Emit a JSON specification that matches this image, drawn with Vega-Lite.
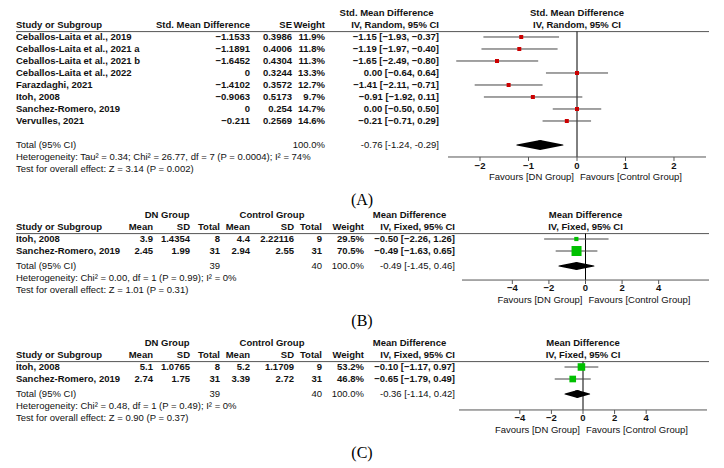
{
  "$schema": "https://vega.github.io/schema/vega-lite/v6.json",
  "padding": 0,
  "spacing": 21,
  "bounds": "flush",
  "background": "white",
  "config": {"view": {"stroke": null}, "font": "Liberation Sans", "text": {"fontSize": 9.5, "color": "#111"}, "title": {"baseline": "top"}},
  "datasets": {
    "panels": [{"p": "A"}, {"p": "B"}, {"p": "C"}],
    "cells": [
      {"p": "A", "r": 0, "c": 3.54, "t": "Std. Mean Difference", "k": "group"},
      {"p": "A", "r": 0, "t": "Std. Mean Difference", "k": "fhead"},
      {"p": "A", "r": 1, "t": "IV, Random, 95% CI", "k": "fhead"},
      {"p": "A", "r": 1, "c": 0, "t": "Study or Subgroup", "k": "head"},
      {"p": "A", "r": 1, "c": 1, "t": "Std. Mean Difference", "k": "head"},
      {"p": "A", "r": 1, "c": 2, "t": "SE", "k": "head"},
      {"p": "A", "r": 1, "c": 3, "t": "Weight", "k": "head"},
      {"p": "A", "r": 1, "c": 4, "t": "IV, Random, 95% CI", "k": "head"},
      {"p": "A", "r": 2, "c": 0, "t": "Ceballos-Laita et al., 2019", "k": "study"},
      {"p": "A", "r": 2, "c": 1, "t": "−1.1533", "k": "study"},
      {"p": "A", "r": 2, "c": 2, "t": "0.3986", "k": "study"},
      {"p": "A", "r": 2, "c": 3, "t": "11.9%", "k": "study"},
      {"p": "A", "r": 2, "c": 4, "t": "−1.15 [−1.93, −0.37]", "k": "study"},
      {"p": "A", "r": 3, "c": 0, "t": "Ceballos-Laita et al., 2021 a", "k": "study"},
      {"p": "A", "r": 3, "c": 1, "t": "−1.1891", "k": "study"},
      {"p": "A", "r": 3, "c": 2, "t": "0.4006", "k": "study"},
      {"p": "A", "r": 3, "c": 3, "t": "11.8%", "k": "study"},
      {"p": "A", "r": 3, "c": 4, "t": "−1.19 [−1.97, −0.40]", "k": "study"},
      {"p": "A", "r": 4, "c": 0, "t": "Ceballos-Laita et al., 2021 b", "k": "study"},
      {"p": "A", "r": 4, "c": 1, "t": "−1.6452", "k": "study"},
      {"p": "A", "r": 4, "c": 2, "t": "0.4304", "k": "study"},
      {"p": "A", "r": 4, "c": 3, "t": "11.3%", "k": "study"},
      {"p": "A", "r": 4, "c": 4, "t": "−1.65 [−2.49, −0.80]", "k": "study"},
      {"p": "A", "r": 5, "c": 0, "t": "Ceballos-Laita et al., 2022", "k": "study"},
      {"p": "A", "r": 5, "c": 1, "t": "0", "k": "study"},
      {"p": "A", "r": 5, "c": 2, "t": "0.3244", "k": "study"},
      {"p": "A", "r": 5, "c": 3, "t": "13.3%", "k": "study"},
      {"p": "A", "r": 5, "c": 4, "t": "0.00 [−0.64, 0.64]", "k": "study"},
      {"p": "A", "r": 6, "c": 0, "t": "Farazdaghi, 2021", "k": "study"},
      {"p": "A", "r": 6, "c": 1, "t": "−1.4102", "k": "study"},
      {"p": "A", "r": 6, "c": 2, "t": "0.3572", "k": "study"},
      {"p": "A", "r": 6, "c": 3, "t": "12.7%", "k": "study"},
      {"p": "A", "r": 6, "c": 4, "t": "−1.41 [−2.11, −0.71]", "k": "study"},
      {"p": "A", "r": 7, "c": 0, "t": "Itoh, 2008", "k": "study"},
      {"p": "A", "r": 7, "c": 1, "t": "−0.9063", "k": "study"},
      {"p": "A", "r": 7, "c": 2, "t": "0.5173", "k": "study"},
      {"p": "A", "r": 7, "c": 3, "t": "9.7%", "k": "study"},
      {"p": "A", "r": 7, "c": 4, "t": "−0.91 [−1.92, 0.11]", "k": "study"},
      {"p": "A", "r": 8, "c": 0, "t": "Sanchez-Romero, 2019", "k": "study"},
      {"p": "A", "r": 8, "c": 1, "t": "0", "k": "study"},
      {"p": "A", "r": 8, "c": 2, "t": "0.254", "k": "study"},
      {"p": "A", "r": 8, "c": 3, "t": "14.7%", "k": "study"},
      {"p": "A", "r": 8, "c": 4, "t": "0.00 [−0.50, 0.50]", "k": "study"},
      {"p": "A", "r": 9, "c": 0, "t": "Vervulles, 2021", "k": "study"},
      {"p": "A", "r": 9, "c": 1, "t": "−0.211", "k": "study"},
      {"p": "A", "r": 9, "c": 2, "t": "0.2569", "k": "study"},
      {"p": "A", "r": 9, "c": 3, "t": "14.6%", "k": "study"},
      {"p": "A", "r": 9, "c": 4, "t": "−0.21 [−0.71, 0.29]", "k": "study"},
      {"p": "A", "r": 11, "c": 0, "t": "Total (95% CI)", "k": "total"},
      {"p": "A", "r": 11, "c": 3, "t": "100.0%", "k": "total"},
      {"p": "A", "r": 11, "c": 4, "t": "-0.76 [-1.24, -0.29]", "k": "total"},
      {"p": "A", "r": 12, "c": 0, "t": "Heterogeneity: Tau² = 0.34; Chi² = 26.77, df = 7 (P = 0.0004); I² = 74%", "k": "note"},
      {"p": "A", "r": 13, "c": 0, "t": "Test for overall effect: Z = 3.14 (P = 0.002)", "k": "note"},

      {"p": "B", "r": 0, "c": 1.38, "t": "DN Group", "k": "group"},
      {"p": "B", "r": 0, "c": 4.5, "t": "Control Group", "k": "group"},
      {"p": "B", "r": 0, "c": 7.5, "t": "Mean Difference", "k": "group"},
      {"p": "B", "r": 0, "t": "Mean Difference", "k": "fhead"},
      {"p": "B", "r": 1, "t": "IV, Fixed, 95% CI", "k": "fhead"},
      {"p": "B", "r": 1, "c": 0, "t": "Study or Subgroup", "k": "head"},
      {"p": "B", "r": 1, "c": 1, "t": "Mean", "k": "head"},
      {"p": "B", "r": 1, "c": 2, "t": "SD", "k": "head"},
      {"p": "B", "r": 1, "c": 3, "t": "Total", "k": "head"},
      {"p": "B", "r": 1, "c": 4, "t": "Mean", "k": "head"},
      {"p": "B", "r": 1, "c": 5, "t": "SD", "k": "head"},
      {"p": "B", "r": 1, "c": 6, "t": "Total", "k": "head"},
      {"p": "B", "r": 1, "c": 7, "t": "Weight", "k": "head"},
      {"p": "B", "r": 1, "c": 8, "t": "IV, Fixed, 95% CI", "k": "head"},
      {"p": "B", "r": 2, "c": 0, "t": "Itoh, 2008", "k": "study"},
      {"p": "B", "r": 2, "c": 1, "t": "3.9", "k": "study"},
      {"p": "B", "r": 2, "c": 2, "t": "1.4354", "k": "study"},
      {"p": "B", "r": 2, "c": 3, "t": "8", "k": "study"},
      {"p": "B", "r": 2, "c": 4, "t": "4.4", "k": "study"},
      {"p": "B", "r": 2, "c": 5, "t": "2.22116", "k": "study"},
      {"p": "B", "r": 2, "c": 6, "t": "9", "k": "study"},
      {"p": "B", "r": 2, "c": 7, "t": "29.5%", "k": "study"},
      {"p": "B", "r": 2, "c": 8, "t": "−0.50 [−2.26, 1.26]", "k": "study"},
      {"p": "B", "r": 3, "c": 0, "t": "Sanchez-Romero, 2019", "k": "study"},
      {"p": "B", "r": 3, "c": 1, "t": "2.45", "k": "study"},
      {"p": "B", "r": 3, "c": 2, "t": "1.99", "k": "study"},
      {"p": "B", "r": 3, "c": 3, "t": "31", "k": "study"},
      {"p": "B", "r": 3, "c": 4, "t": "2.94", "k": "study"},
      {"p": "B", "r": 3, "c": 5, "t": "2.55", "k": "study"},
      {"p": "B", "r": 3, "c": 6, "t": "31", "k": "study"},
      {"p": "B", "r": 3, "c": 7, "t": "70.5%", "k": "study"},
      {"p": "B", "r": 3, "c": 8, "t": "−0.49 [−1.63, 0.65]", "k": "study"},
      {"p": "B", "r": 4.25, "c": 0, "t": "Total (95% CI)", "k": "total"},
      {"p": "B", "r": 4.25, "c": 3, "t": "39", "k": "total"},
      {"p": "B", "r": 4.25, "c": 6, "t": "40", "k": "total"},
      {"p": "B", "r": 4.25, "c": 7, "t": "100.0%", "k": "total"},
      {"p": "B", "r": 4.25, "c": 8, "t": "-0.49 [-1.45, 0.46]", "k": "total"},
      {"p": "B", "r": 5.25, "c": 0, "t": "Heterogeneity: Chi² = 0.00, df = 1 (P = 0.99); I² = 0%", "k": "note"},
      {"p": "B", "r": 6.25, "c": 0, "t": "Test for overall effect: Z = 1.01 (P = 0.31)", "k": "note"},

      {"p": "C", "r": 0, "c": 1.38, "t": "DN Group", "k": "group"},
      {"p": "C", "r": 0, "c": 4.5, "t": "Control Group", "k": "group"},
      {"p": "C", "r": 0, "c": 7.5, "t": "Mean Difference", "k": "group"},
      {"p": "C", "r": 0, "t": "Mean Difference", "k": "fhead"},
      {"p": "C", "r": 1, "t": "IV, Fixed, 95% CI", "k": "fhead"},
      {"p": "C", "r": 1, "c": 0, "t": "Study or Subgroup", "k": "head"},
      {"p": "C", "r": 1, "c": 1, "t": "Mean", "k": "head"},
      {"p": "C", "r": 1, "c": 2, "t": "SD", "k": "head"},
      {"p": "C", "r": 1, "c": 3, "t": "Total", "k": "head"},
      {"p": "C", "r": 1, "c": 4, "t": "Mean", "k": "head"},
      {"p": "C", "r": 1, "c": 5, "t": "SD", "k": "head"},
      {"p": "C", "r": 1, "c": 6, "t": "Total", "k": "head"},
      {"p": "C", "r": 1, "c": 7, "t": "Weight", "k": "head"},
      {"p": "C", "r": 1, "c": 8, "t": "IV, Fixed, 95% CI", "k": "head"},
      {"p": "C", "r": 2, "c": 0, "t": "Itoh, 2008", "k": "study"},
      {"p": "C", "r": 2, "c": 1, "t": "5.1", "k": "study"},
      {"p": "C", "r": 2, "c": 2, "t": "1.0765", "k": "study"},
      {"p": "C", "r": 2, "c": 3, "t": "8", "k": "study"},
      {"p": "C", "r": 2, "c": 4, "t": "5.2", "k": "study"},
      {"p": "C", "r": 2, "c": 5, "t": "1.1709", "k": "study"},
      {"p": "C", "r": 2, "c": 6, "t": "9", "k": "study"},
      {"p": "C", "r": 2, "c": 7, "t": "53.2%", "k": "study"},
      {"p": "C", "r": 2, "c": 8, "t": "−0.10 [−1.17, 0.97]", "k": "study"},
      {"p": "C", "r": 3, "c": 0, "t": "Sanchez-Romero, 2019", "k": "study"},
      {"p": "C", "r": 3, "c": 1, "t": "2.74", "k": "study"},
      {"p": "C", "r": 3, "c": 2, "t": "1.75", "k": "study"},
      {"p": "C", "r": 3, "c": 3, "t": "31", "k": "study"},
      {"p": "C", "r": 3, "c": 4, "t": "3.39", "k": "study"},
      {"p": "C", "r": 3, "c": 5, "t": "2.72", "k": "study"},
      {"p": "C", "r": 3, "c": 6, "t": "31", "k": "study"},
      {"p": "C", "r": 3, "c": 7, "t": "46.8%", "k": "study"},
      {"p": "C", "r": 3, "c": 8, "t": "−0.65 [−1.79, 0.49]", "k": "study"},
      {"p": "C", "r": 4.25, "c": 0, "t": "Total (95% CI)", "k": "total"},
      {"p": "C", "r": 4.25, "c": 3, "t": "39", "k": "total"},
      {"p": "C", "r": 4.25, "c": 6, "t": "40", "k": "total"},
      {"p": "C", "r": 4.25, "c": 7, "t": "100.0%", "k": "total"},
      {"p": "C", "r": 4.25, "c": 8, "t": "-0.36 [-1.14, 0.42]", "k": "total"},
      {"p": "C", "r": 5.25, "c": 0, "t": "Heterogeneity: Chi² = 0.48, df = 1 (P = 0.49); I² = 0%", "k": "note"},
      {"p": "C", "r": 6.25, "c": 0, "t": "Test for overall effect: Z = 0.90 (P = 0.37)", "k": "note"}
    ],
    "forest": [
      {"p": "A", "r": 2, "est": -1.15, "lo": -1.93, "hi": -0.37, "w": 11.9},
      {"p": "A", "r": 3, "est": -1.19, "lo": -1.97, "hi": -0.40, "w": 11.8},
      {"p": "A", "r": 4, "est": -1.65, "lo": -2.49, "hi": -0.80, "w": 11.3},
      {"p": "A", "r": 5, "est": 0.00, "lo": -0.64, "hi": 0.64, "w": 13.3},
      {"p": "A", "r": 6, "est": -1.41, "lo": -2.11, "hi": -0.71, "w": 12.7},
      {"p": "A", "r": 7, "est": -0.91, "lo": -1.92, "hi": 0.11, "w": 9.7},
      {"p": "A", "r": 8, "est": 0.00, "lo": -0.50, "hi": 0.50, "w": 14.7},
      {"p": "A", "r": 9, "est": -0.21, "lo": -0.71, "hi": 0.29, "w": 14.6},
      {"p": "B", "r": 2, "est": -0.50, "lo": -2.26, "hi": 1.26, "w": 29.5},
      {"p": "B", "r": 3, "est": -0.49, "lo": -1.63, "hi": 0.65, "w": 70.5},
      {"p": "C", "r": 2, "est": -0.10, "lo": -1.17, "hi": 0.97, "w": 53.2},
      {"p": "C", "r": 3, "est": -0.65, "lo": -1.79, "hi": 0.49, "w": 46.8}
    ],
    "diamond": [
      {"p": "A", "r": 11, "x": -1.24, "b": "lower"},
      {"p": "A", "r": 11, "x": -0.76, "b": "estimate"},
      {"p": "A", "r": 11, "x": -0.29, "b": "upper"},
      {"p": "B", "r": 4.25, "x": -1.45, "b": "lower"},
      {"p": "B", "r": 4.25, "x": -0.49, "b": "estimate"},
      {"p": "B", "r": 4.25, "x": 0.46, "b": "upper"},
      {"p": "C", "r": 4.25, "x": -1.14, "b": "lower"},
      {"p": "C", "r": 4.25, "x": -0.36, "b": "estimate"},
      {"p": "C", "r": 4.25, "x": 0.42, "b": "upper"}
    ],
    "ticks": [
      {"p": "A", "v": -2, "label": "−2"}, {"p": "A", "v": -1, "label": "−1"}, {"p": "A", "v": 0, "label": "0"}, {"p": "A", "v": 1, "label": "1"}, {"p": "A", "v": 2, "label": "2"},
      {"p": "B", "v": -4, "label": "−4"}, {"p": "B", "v": -2, "label": "−2"}, {"p": "B", "v": 0, "label": "0"}, {"p": "B", "v": 2, "label": "2"}, {"p": "B", "v": 4, "label": "4"},
      {"p": "C", "v": -4, "label": "−4"}, {"p": "C", "v": -2, "label": "−2"}, {"p": "C", "v": 0, "label": "0"}, {"p": "C", "v": 2, "label": "2"}, {"p": "C", "v": 4, "label": "4"}
    ],
    "favours": [
      {"p": "A", "side": "DN", "t": "Favours [DN Group]"}, {"p": "A", "side": "Control", "t": "Favours [Control Group]"},
      {"p": "B", "side": "DN", "t": "Favours [DN Group]"}, {"p": "B", "side": "Control", "t": "Favours [Control Group]"},
      {"p": "C", "side": "DN", "t": "Favours [DN Group]"}, {"p": "C", "side": "Control", "t": "Favours [Control Group]"}
    ]
  },
  "vconcat": [
    {
      "width": 724, "height": 186,
      "title": {"text": "(A)", "orient": "bottom", "anchor": "middle", "frame": "group", "baseline": "top", "font": "Liberation Serif", "fontSize": 16, "fontWeight": "normal", "color": "#000", "offset": 6},
      "resolve": {"scale": {"x": "independent"}},
      "layer": [
        {"data": {"name": "panels"}, "transform": [{"filter": "datum.p=='A'"}], "mark": {"type": "rule", "color": "#555"},
         "encoding": {"x": {"datum": 0, "type": "quantitative", "scale": {"domain": [0,1,2,3,4,5], "range": [16,250,292,325,439,709], "nice": false, "zero": false}, "axis": null}, "x2": {"datum": 5},
                      "y": {"datum": 1.55, "type": "quantitative", "scale": {"domain": [-1.0833, 14.4167], "reverse": true, "nice": false, "zero": false}, "axis": null}}},
        {"data": {"name": "panels"}, "transform": [{"filter": "datum.p=='A'"}], "mark": {"type": "rule", "color": "#000"},
         "encoding": {"x": {"datum": 0, "type": "quantitative", "scale": {"domain": [-2.66, 2.66], "range": [448, 706], "nice": false, "zero": false}, "axis": null},
                      "y": {"datum": 1.55, "type": "quantitative", "scale": {"domain": [-1.0833, 14.4167], "reverse": true, "nice": false, "zero": false}, "axis": null}, "y2": {"datum": 12.0}}},
        {"data": {"name": "panels"}, "transform": [{"filter": "datum.p=='A'"}], "mark": {"type": "rule", "color": "#555"},
         "encoding": {"x": {"datum": -2.66, "type": "quantitative", "scale": {"domain": [-2.66, 2.66], "range": [448, 706], "nice": false, "zero": false}, "axis": null}, "x2": {"datum": 2.66},
                      "y": {"datum": 12.0, "type": "quantitative", "scale": {"domain": [-1.0833, 14.4167], "reverse": true, "nice": false, "zero": false}, "axis": null}}},
        {"data": {"name": "ticks"}, "transform": [{"filter": "datum.p=='A'"}], "mark": {"type": "rule", "color": "#555"},
         "encoding": {"x": {"field": "v", "type": "quantitative", "scale": {"domain": [-2.66, 2.66], "range": [448, 706], "nice": false, "zero": false}, "axis": null},
                      "y": {"datum": 12.0, "type": "quantitative", "scale": {"domain": [-1.0833, 14.4167], "reverse": true, "nice": false, "zero": false}, "axis": null}, "y2": {"datum": 12.33}}},
        {"data": {"name": "ticks"}, "transform": [{"filter": "datum.p=='A'"}], "mark": {"type": "text", "baseline": "middle", "align": "center", "fontWeight": "bold"},
         "encoding": {"x": {"field": "v", "type": "quantitative", "scale": {"domain": [-2.66, 2.66], "range": [448, 706], "nice": false, "zero": false}, "axis": null},
                      "y": {"datum": 12.72, "type": "quantitative", "scale": {"domain": [-1.0833, 14.4167], "reverse": true, "nice": false, "zero": false}, "axis": null}, "text": {"field": "label"}}},
        {"data": {"name": "favours"}, "transform": [{"filter": "datum.p=='A' && datum.side=='DN'"}], "mark": {"type": "text", "baseline": "middle", "align": "right", "dx": -3},
         "encoding": {"x": {"datum": 0, "type": "quantitative", "scale": {"domain": [-2.66, 2.66], "range": [448, 706], "nice": false, "zero": false}, "axis": null},
                      "y": {"datum": 13.67, "type": "quantitative", "scale": {"domain": [-1.0833, 14.4167], "reverse": true, "nice": false, "zero": false}, "axis": null}, "text": {"field": "t"}}},
        {"data": {"name": "favours"}, "transform": [{"filter": "datum.p=='A' && datum.side=='Control'"}], "mark": {"type": "text", "baseline": "middle", "align": "left", "dx": 3},
         "encoding": {"x": {"datum": 0, "type": "quantitative", "scale": {"domain": [-2.66, 2.66], "range": [448, 706], "nice": false, "zero": false}, "axis": null},
                      "y": {"datum": 13.67, "type": "quantitative", "scale": {"domain": [-1.0833, 14.4167], "reverse": true, "nice": false, "zero": false}, "axis": null}, "text": {"field": "t"}}},
        {"data": {"name": "forest"}, "transform": [{"filter": "datum.p=='A'"}], "mark": {"type": "rule", "color": "#444"},
         "encoding": {"x": {"field": "lo", "type": "quantitative", "scale": {"domain": [-2.66, 2.66], "range": [448, 706], "nice": false, "zero": false}, "axis": null}, "x2": {"field": "hi"},
                      "y": {"field": "r", "type": "quantitative", "scale": {"domain": [-1.0833, 14.4167], "reverse": true, "nice": false, "zero": false}, "axis": null}}},
        {"data": {"name": "forest"}, "transform": [{"filter": "datum.p=='A'"}], "mark": {"type": "square", "color": "#cc0000", "opacity": 1, "size": 16},
         "encoding": {"x": {"field": "est", "type": "quantitative", "scale": {"domain": [-2.66, 2.66], "range": [448, 706], "nice": false, "zero": false}, "axis": null},
                      "y": {"field": "r", "type": "quantitative", "scale": {"domain": [-1.0833, 14.4167], "reverse": true, "nice": false, "zero": false}, "axis": null}}},
        {"data": {"name": "diamond"}, "transform": [{"filter": "datum.p=='A'"}], "mark": {"type": "trail", "color": "#000"},
         "encoding": {"x": {"field": "x", "type": "quantitative", "scale": {"domain": [-2.66, 2.66], "range": [448, 706], "nice": false, "zero": false}, "axis": null},
                      "y": {"field": "r", "type": "quantitative", "scale": {"domain": [-1.0833, 14.4167], "reverse": true, "nice": false, "zero": false}, "axis": null},
                      "size": {"condition": {"test": "datum.b=='estimate'", "value": 10}, "value": 0}}},
        {"data": {"name": "cells"}, "transform": [{"filter": "datum.p=='A' && datum.k=='fhead'"}], "mark": {"type": "text", "baseline": "middle", "align": "center", "fontWeight": "bold"},
         "encoding": {"x": {"datum": 0, "type": "quantitative", "scale": {"domain": [-2.66, 2.66], "range": [448, 706], "nice": false, "zero": false}, "axis": null},
                      "y": {"field": "r", "type": "quantitative", "scale": {"domain": [-1.0833, 14.4167], "reverse": true, "nice": false, "zero": false}, "axis": null}, "text": {"field": "t"}}},
        {"data": {"name": "cells"}, "transform": [{"filter": "datum.p=='A' && datum.c==0 && (datum.k=='head' || datum.k=='study')"}], "mark": {"type": "text", "baseline": "middle", "align": "left", "fontWeight": "bold"},
         "encoding": {"x": {"field": "c", "type": "quantitative", "scale": {"domain": [0,1,2,3,4,5], "range": [16,250,292,325,439,709], "nice": false, "zero": false}, "axis": null},
                      "y": {"field": "r", "type": "quantitative", "scale": {"domain": [-1.0833, 14.4167], "reverse": true, "nice": false, "zero": false}, "axis": null}, "text": {"field": "t"}}},
        {"data": {"name": "cells"}, "transform": [{"filter": "datum.p=='A' && datum.c==0 && (datum.k=='total' || datum.k=='note')"}], "mark": {"type": "text", "baseline": "middle", "align": "left"},
         "encoding": {"x": {"field": "c", "type": "quantitative", "scale": {"domain": [0,1,2,3,4,5], "range": [16,250,292,325,439,709], "nice": false, "zero": false}, "axis": null},
                      "y": {"field": "r", "type": "quantitative", "scale": {"domain": [-1.0833, 14.4167], "reverse": true, "nice": false, "zero": false}, "axis": null}, "text": {"field": "t"}}},
        {"data": {"name": "cells"}, "transform": [{"filter": "datum.p=='A' && datum.c>0 && (datum.k=='head' || datum.k=='study')"}], "mark": {"type": "text", "baseline": "middle", "align": "right", "fontWeight": "bold"},
         "encoding": {"x": {"field": "c", "type": "quantitative", "scale": {"domain": [0,1,2,3,4,5], "range": [16,250,292,325,439,709], "nice": false, "zero": false}, "axis": null},
                      "y": {"field": "r", "type": "quantitative", "scale": {"domain": [-1.0833, 14.4167], "reverse": true, "nice": false, "zero": false}, "axis": null}, "text": {"field": "t"}}},
        {"data": {"name": "cells"}, "transform": [{"filter": "datum.p=='A' && datum.c>0 && datum.k=='total'"}], "mark": {"type": "text", "baseline": "middle", "align": "right"},
         "encoding": {"x": {"field": "c", "type": "quantitative", "scale": {"domain": [0,1,2,3,4,5], "range": [16,250,292,325,439,709], "nice": false, "zero": false}, "axis": null},
                      "y": {"field": "r", "type": "quantitative", "scale": {"domain": [-1.0833, 14.4167], "reverse": true, "nice": false, "zero": false}, "axis": null}, "text": {"field": "t"}}},
        {"data": {"name": "cells"}, "transform": [{"filter": "datum.p=='A' && datum.k=='group'"}], "mark": {"type": "text", "baseline": "middle", "align": "center", "fontWeight": "bold"},
         "encoding": {"x": {"field": "c", "type": "quantitative", "scale": {"domain": [0,1,2,3,4,5], "range": [16,250,292,325,439,709], "nice": false, "zero": false}, "axis": null},
                      "y": {"field": "r", "type": "quantitative", "scale": {"domain": [-1.0833, 14.4167], "reverse": true, "nice": false, "zero": false}, "axis": null}, "text": {"field": "t"}}}
      ]
    },
    {
      "width": 724, "height": 98,
      "title": {"text": "(B)", "orient": "bottom", "anchor": "middle", "frame": "group", "baseline": "top", "font": "Liberation Serif", "fontSize": 16, "fontWeight": "normal", "color": "#000", "offset": 8},
      "resolve": {"scale": {"x": "independent"}},
      "layer": [
        {"data": {"name": "panels"}, "transform": [{"filter": "datum.p=='B'"}], "mark": {"type": "rule", "color": "#555"},
         "encoding": {"x": {"datum": 0, "type": "quantitative", "scale": {"domain": [0,1,2,3,4,5,6,7,8,9], "range": [16,153,190,220,250,294,322,364,455,709], "nice": false, "zero": false}, "axis": null}, "x2": {"datum": 9},
                      "y": {"datum": 1.55, "type": "quantitative", "scale": {"domain": [-0.667, 7.5], "reverse": true, "nice": false, "zero": false}, "axis": null}}},
        {"data": {"name": "panels"}, "transform": [{"filter": "datum.p=='B'"}], "mark": {"type": "rule", "color": "#000"},
         "encoding": {"x": {"datum": 0, "type": "quantitative", "scale": {"domain": [-6.75, 6.75], "range": [462, 709], "nice": false, "zero": false}, "axis": null},
                      "y": {"datum": 1.55, "type": "quantitative", "scale": {"domain": [-0.667, 7.5], "reverse": true, "nice": false, "zero": false}, "axis": null}, "y2": {"datum": 5.42}}},
        {"data": {"name": "panels"}, "transform": [{"filter": "datum.p=='B'"}], "mark": {"type": "rule", "color": "#555"},
         "encoding": {"x": {"datum": -6.75, "type": "quantitative", "scale": {"domain": [-6.75, 6.75], "range": [462, 709], "nice": false, "zero": false}, "axis": null}, "x2": {"datum": 6.75},
                      "y": {"datum": 5.42, "type": "quantitative", "scale": {"domain": [-0.667, 7.5], "reverse": true, "nice": false, "zero": false}, "axis": null}}},
        {"data": {"name": "ticks"}, "transform": [{"filter": "datum.p=='B'"}], "mark": {"type": "rule", "color": "#555"},
         "encoding": {"x": {"field": "v", "type": "quantitative", "scale": {"domain": [-6.75, 6.75], "range": [462, 709], "nice": false, "zero": false}, "axis": null},
                      "y": {"datum": 5.42, "type": "quantitative", "scale": {"domain": [-0.667, 7.5], "reverse": true, "nice": false, "zero": false}, "axis": null}, "y2": {"datum": 5.75}}},
        {"data": {"name": "ticks"}, "transform": [{"filter": "datum.p=='B'"}], "mark": {"type": "text", "baseline": "middle", "align": "center", "fontWeight": "bold"},
         "encoding": {"x": {"field": "v", "type": "quantitative", "scale": {"domain": [-6.75, 6.75], "range": [462, 709], "nice": false, "zero": false}, "axis": null},
                      "y": {"datum": 6.12, "type": "quantitative", "scale": {"domain": [-0.667, 7.5], "reverse": true, "nice": false, "zero": false}, "axis": null}, "text": {"field": "label"}}},
        {"data": {"name": "favours"}, "transform": [{"filter": "datum.p=='B' && datum.side=='DN'"}], "mark": {"type": "text", "baseline": "middle", "align": "right", "dx": -3},
         "encoding": {"x": {"datum": 0, "type": "quantitative", "scale": {"domain": [-6.75, 6.75], "range": [462, 709], "nice": false, "zero": false}, "axis": null},
                      "y": {"datum": 7.07, "type": "quantitative", "scale": {"domain": [-0.667, 7.5], "reverse": true, "nice": false, "zero": false}, "axis": null}, "text": {"field": "t"}}},
        {"data": {"name": "favours"}, "transform": [{"filter": "datum.p=='B' && datum.side=='Control'"}], "mark": {"type": "text", "baseline": "middle", "align": "left", "dx": 3},
         "encoding": {"x": {"datum": 0, "type": "quantitative", "scale": {"domain": [-6.75, 6.75], "range": [462, 709], "nice": false, "zero": false}, "axis": null},
                      "y": {"datum": 7.07, "type": "quantitative", "scale": {"domain": [-0.667, 7.5], "reverse": true, "nice": false, "zero": false}, "axis": null}, "text": {"field": "t"}}},
        {"data": {"name": "forest"}, "transform": [{"filter": "datum.p=='B'"}], "mark": {"type": "rule", "color": "#444"},
         "encoding": {"x": {"field": "lo", "type": "quantitative", "scale": {"domain": [-6.75, 6.75], "range": [462, 709], "nice": false, "zero": false}, "axis": null}, "x2": {"field": "hi"},
                      "y": {"field": "r", "type": "quantitative", "scale": {"domain": [-0.667, 7.5], "reverse": true, "nice": false, "zero": false}, "axis": null}}},
        {"data": {"name": "forest"}, "transform": [{"filter": "datum.p=='B'"}], "mark": {"type": "square", "color": "#00c000", "opacity": 1},
         "encoding": {"x": {"field": "est", "type": "quantitative", "scale": {"domain": [-6.75, 6.75], "range": [462, 709], "nice": false, "zero": false}, "axis": null},
                      "y": {"field": "r", "type": "quantitative", "scale": {"domain": [-0.667, 7.5], "reverse": true, "nice": false, "zero": false}, "axis": null},
                      "size": {"field": "w", "type": "quantitative", "scale": {"type": "pow", "exponent": 2, "domain": [0, 100], "range": [0, 201.6]}, "legend": null}}},
        {"data": {"name": "diamond"}, "transform": [{"filter": "datum.p=='B'"}], "mark": {"type": "trail", "color": "#000"},
         "encoding": {"x": {"field": "x", "type": "quantitative", "scale": {"domain": [-6.75, 6.75], "range": [462, 709], "nice": false, "zero": false}, "axis": null},
                      "y": {"field": "r", "type": "quantitative", "scale": {"domain": [-0.667, 7.5], "reverse": true, "nice": false, "zero": false}, "axis": null},
                      "size": {"condition": {"test": "datum.b=='estimate'", "value": 8}, "value": 0}}},
        {"data": {"name": "cells"}, "transform": [{"filter": "datum.p=='B' && datum.k=='fhead'"}], "mark": {"type": "text", "baseline": "middle", "align": "center", "fontWeight": "bold"},
         "encoding": {"x": {"datum": 0, "type": "quantitative", "scale": {"domain": [-6.75, 6.75], "range": [462, 709], "nice": false, "zero": false}, "axis": null},
                      "y": {"field": "r", "type": "quantitative", "scale": {"domain": [-0.667, 7.5], "reverse": true, "nice": false, "zero": false}, "axis": null}, "text": {"field": "t"}}},
        {"data": {"name": "cells"}, "transform": [{"filter": "datum.p=='B' && datum.c==0 && (datum.k=='head' || datum.k=='study')"}], "mark": {"type": "text", "baseline": "middle", "align": "left", "fontWeight": "bold"},
         "encoding": {"x": {"field": "c", "type": "quantitative", "scale": {"domain": [0,1,2,3,4,5,6,7,8,9], "range": [16,153,190,220,250,294,322,364,455,709], "nice": false, "zero": false}, "axis": null},
                      "y": {"field": "r", "type": "quantitative", "scale": {"domain": [-0.667, 7.5], "reverse": true, "nice": false, "zero": false}, "axis": null}, "text": {"field": "t"}}},
        {"data": {"name": "cells"}, "transform": [{"filter": "datum.p=='B' && datum.c==0 && (datum.k=='total' || datum.k=='note')"}], "mark": {"type": "text", "baseline": "middle", "align": "left"},
         "encoding": {"x": {"field": "c", "type": "quantitative", "scale": {"domain": [0,1,2,3,4,5,6,7,8,9], "range": [16,153,190,220,250,294,322,364,455,709], "nice": false, "zero": false}, "axis": null},
                      "y": {"field": "r", "type": "quantitative", "scale": {"domain": [-0.667, 7.5], "reverse": true, "nice": false, "zero": false}, "axis": null}, "text": {"field": "t"}}},
        {"data": {"name": "cells"}, "transform": [{"filter": "datum.p=='B' && datum.c>0 && (datum.k=='head' || datum.k=='study')"}], "mark": {"type": "text", "baseline": "middle", "align": "right", "fontWeight": "bold"},
         "encoding": {"x": {"field": "c", "type": "quantitative", "scale": {"domain": [0,1,2,3,4,5,6,7,8,9], "range": [16,153,190,220,250,294,322,364,455,709], "nice": false, "zero": false}, "axis": null},
                      "y": {"field": "r", "type": "quantitative", "scale": {"domain": [-0.667, 7.5], "reverse": true, "nice": false, "zero": false}, "axis": null}, "text": {"field": "t"}}},
        {"data": {"name": "cells"}, "transform": [{"filter": "datum.p=='B' && datum.c>0 && datum.k=='total'"}], "mark": {"type": "text", "baseline": "middle", "align": "right"},
         "encoding": {"x": {"field": "c", "type": "quantitative", "scale": {"domain": [0,1,2,3,4,5,6,7,8,9], "range": [16,153,190,220,250,294,322,364,455,709], "nice": false, "zero": false}, "axis": null},
                      "y": {"field": "r", "type": "quantitative", "scale": {"domain": [-0.667, 7.5], "reverse": true, "nice": false, "zero": false}, "axis": null}, "text": {"field": "t"}}},
        {"data": {"name": "cells"}, "transform": [{"filter": "datum.p=='B' && datum.k=='group'"}], "mark": {"type": "text", "baseline": "middle", "align": "center", "fontWeight": "bold"},
         "encoding": {"x": {"field": "c", "type": "quantitative", "scale": {"domain": [0,1,2,3,4,5,6,7,8,9], "range": [16,153,190,220,250,294,322,364,455,709], "nice": false, "zero": false}, "axis": null},
                      "y": {"field": "r", "type": "quantitative", "scale": {"domain": [-0.667, 7.5], "reverse": true, "nice": false, "zero": false}, "axis": null}, "text": {"field": "t"}}}
      ]
    },
    {
      "width": 724, "height": 106,
      "title": {"text": "(C)", "orient": "bottom", "anchor": "middle", "frame": "group", "baseline": "top", "font": "Liberation Serif", "fontSize": 16, "fontWeight": "normal", "color": "#000", "offset": 11},
      "resolve": {"scale": {"x": "independent"}},
      "layer": [
        {"data": {"name": "panels"}, "transform": [{"filter": "datum.p=='C'"}], "mark": {"type": "rule", "color": "#555"},
         "encoding": {"x": {"datum": 0, "type": "quantitative", "scale": {"domain": [0,1,2,3,4,5,6,7,8,9], "range": [16,153,190,220,250,294,322,364,455,709], "nice": false, "zero": false}, "axis": null}, "x2": {"datum": 9},
                      "y": {"datum": 1.55, "type": "quantitative", "scale": {"domain": [-1.4167, 7.4167], "reverse": true, "nice": false, "zero": false}, "axis": null}}},
        {"data": {"name": "panels"}, "transform": [{"filter": "datum.p=='C'"}], "mark": {"type": "rule", "color": "#000"},
         "encoding": {"x": {"datum": 0, "type": "quantitative", "scale": {"domain": [-7.85, 7.85], "range": [459, 707], "nice": false, "zero": false}, "axis": null},
                      "y": {"datum": 1.55, "type": "quantitative", "scale": {"domain": [-1.4167, 7.4167], "reverse": true, "nice": false, "zero": false}, "axis": null}, "y2": {"datum": 5.58}}},
        {"data": {"name": "panels"}, "transform": [{"filter": "datum.p=='C'"}], "mark": {"type": "rule", "color": "#555"},
         "encoding": {"x": {"datum": -7.85, "type": "quantitative", "scale": {"domain": [-7.85, 7.85], "range": [459, 707], "nice": false, "zero": false}, "axis": null}, "x2": {"datum": 7.85},
                      "y": {"datum": 5.58, "type": "quantitative", "scale": {"domain": [-1.4167, 7.4167], "reverse": true, "nice": false, "zero": false}, "axis": null}}},
        {"data": {"name": "ticks"}, "transform": [{"filter": "datum.p=='C'"}], "mark": {"type": "rule", "color": "#555"},
         "encoding": {"x": {"field": "v", "type": "quantitative", "scale": {"domain": [-7.85, 7.85], "range": [459, 707], "nice": false, "zero": false}, "axis": null},
                      "y": {"datum": 5.58, "type": "quantitative", "scale": {"domain": [-1.4167, 7.4167], "reverse": true, "nice": false, "zero": false}, "axis": null}, "y2": {"datum": 5.91}}},
        {"data": {"name": "ticks"}, "transform": [{"filter": "datum.p=='C'"}], "mark": {"type": "text", "baseline": "middle", "align": "center", "fontWeight": "bold"},
         "encoding": {"x": {"field": "v", "type": "quantitative", "scale": {"domain": [-7.85, 7.85], "range": [459, 707], "nice": false, "zero": false}, "axis": null},
                      "y": {"datum": 6.28, "type": "quantitative", "scale": {"domain": [-1.4167, 7.4167], "reverse": true, "nice": false, "zero": false}, "axis": null}, "text": {"field": "label"}}},
        {"data": {"name": "favours"}, "transform": [{"filter": "datum.p=='C' && datum.side=='DN'"}], "mark": {"type": "text", "baseline": "middle", "align": "right", "dx": -3},
         "encoding": {"x": {"datum": 0, "type": "quantitative", "scale": {"domain": [-7.85, 7.85], "range": [459, 707], "nice": false, "zero": false}, "axis": null},
                      "y": {"datum": 7.23, "type": "quantitative", "scale": {"domain": [-1.4167, 7.4167], "reverse": true, "nice": false, "zero": false}, "axis": null}, "text": {"field": "t"}}},
        {"data": {"name": "favours"}, "transform": [{"filter": "datum.p=='C' && datum.side=='Control'"}], "mark": {"type": "text", "baseline": "middle", "align": "left", "dx": 3},
         "encoding": {"x": {"datum": 0, "type": "quantitative", "scale": {"domain": [-7.85, 7.85], "range": [459, 707], "nice": false, "zero": false}, "axis": null},
                      "y": {"datum": 7.23, "type": "quantitative", "scale": {"domain": [-1.4167, 7.4167], "reverse": true, "nice": false, "zero": false}, "axis": null}, "text": {"field": "t"}}},
        {"data": {"name": "forest"}, "transform": [{"filter": "datum.p=='C'"}], "mark": {"type": "rule", "color": "#444"},
         "encoding": {"x": {"field": "lo", "type": "quantitative", "scale": {"domain": [-7.85, 7.85], "range": [459, 707], "nice": false, "zero": false}, "axis": null}, "x2": {"field": "hi"},
                      "y": {"field": "r", "type": "quantitative", "scale": {"domain": [-1.4167, 7.4167], "reverse": true, "nice": false, "zero": false}, "axis": null}}},
        {"data": {"name": "forest"}, "transform": [{"filter": "datum.p=='C'"}], "mark": {"type": "square", "color": "#00c000", "opacity": 1},
         "encoding": {"x": {"field": "est", "type": "quantitative", "scale": {"domain": [-7.85, 7.85], "range": [459, 707], "nice": false, "zero": false}, "axis": null},
                      "y": {"field": "r", "type": "quantitative", "scale": {"domain": [-1.4167, 7.4167], "reverse": true, "nice": false, "zero": false}, "axis": null},
                      "size": {"field": "w", "type": "quantitative", "scale": {"type": "pow", "exponent": 2, "domain": [0, 100], "range": [0, 201.6]}, "legend": null}}},
        {"data": {"name": "diamond"}, "transform": [{"filter": "datum.p=='C'"}], "mark": {"type": "trail", "color": "#000"},
         "encoding": {"x": {"field": "x", "type": "quantitative", "scale": {"domain": [-7.85, 7.85], "range": [459, 707], "nice": false, "zero": false}, "axis": null},
                      "y": {"field": "r", "type": "quantitative", "scale": {"domain": [-1.4167, 7.4167], "reverse": true, "nice": false, "zero": false}, "axis": null},
                      "size": {"condition": {"test": "datum.b=='estimate'", "value": 8}, "value": 0}}},
        {"data": {"name": "cells"}, "transform": [{"filter": "datum.p=='C' && datum.k=='fhead'"}], "mark": {"type": "text", "baseline": "middle", "align": "center", "fontWeight": "bold"},
         "encoding": {"x": {"datum": 0, "type": "quantitative", "scale": {"domain": [-7.85, 7.85], "range": [459, 707], "nice": false, "zero": false}, "axis": null},
                      "y": {"field": "r", "type": "quantitative", "scale": {"domain": [-1.4167, 7.4167], "reverse": true, "nice": false, "zero": false}, "axis": null}, "text": {"field": "t"}}},
        {"data": {"name": "cells"}, "transform": [{"filter": "datum.p=='C' && datum.c==0 && (datum.k=='head' || datum.k=='study')"}], "mark": {"type": "text", "baseline": "middle", "align": "left", "fontWeight": "bold"},
         "encoding": {"x": {"field": "c", "type": "quantitative", "scale": {"domain": [0,1,2,3,4,5,6,7,8,9], "range": [16,153,190,220,250,294,322,364,455,709], "nice": false, "zero": false}, "axis": null},
                      "y": {"field": "r", "type": "quantitative", "scale": {"domain": [-1.4167, 7.4167], "reverse": true, "nice": false, "zero": false}, "axis": null}, "text": {"field": "t"}}},
        {"data": {"name": "cells"}, "transform": [{"filter": "datum.p=='C' && datum.c==0 && (datum.k=='total' || datum.k=='note')"}], "mark": {"type": "text", "baseline": "middle", "align": "left"},
         "encoding": {"x": {"field": "c", "type": "quantitative", "scale": {"domain": [0,1,2,3,4,5,6,7,8,9], "range": [16,153,190,220,250,294,322,364,455,709], "nice": false, "zero": false}, "axis": null},
                      "y": {"field": "r", "type": "quantitative", "scale": {"domain": [-1.4167, 7.4167], "reverse": true, "nice": false, "zero": false}, "axis": null}, "text": {"field": "t"}}},
        {"data": {"name": "cells"}, "transform": [{"filter": "datum.p=='C' && datum.c>0 && (datum.k=='head' || datum.k=='study')"}], "mark": {"type": "text", "baseline": "middle", "align": "right", "fontWeight": "bold"},
         "encoding": {"x": {"field": "c", "type": "quantitative", "scale": {"domain": [0,1,2,3,4,5,6,7,8,9], "range": [16,153,190,220,250,294,322,364,455,709], "nice": false, "zero": false}, "axis": null},
                      "y": {"field": "r", "type": "quantitative", "scale": {"domain": [-1.4167, 7.4167], "reverse": true, "nice": false, "zero": false}, "axis": null}, "text": {"field": "t"}}},
        {"data": {"name": "cells"}, "transform": [{"filter": "datum.p=='C' && datum.c>0 && datum.k=='total'"}], "mark": {"type": "text", "baseline": "middle", "align": "right"},
         "encoding": {"x": {"field": "c", "type": "quantitative", "scale": {"domain": [0,1,2,3,4,5,6,7,8,9], "range": [16,153,190,220,250,294,322,364,455,709], "nice": false, "zero": false}, "axis": null},
                      "y": {"field": "r", "type": "quantitative", "scale": {"domain": [-1.4167, 7.4167], "reverse": true, "nice": false, "zero": false}, "axis": null}, "text": {"field": "t"}}},
        {"data": {"name": "cells"}, "transform": [{"filter": "datum.p=='C' && datum.k=='group'"}], "mark": {"type": "text", "baseline": "middle", "align": "center", "fontWeight": "bold"},
         "encoding": {"x": {"field": "c", "type": "quantitative", "scale": {"domain": [0,1,2,3,4,5,6,7,8,9], "range": [16,153,190,220,250,294,322,364,455,709], "nice": false, "zero": false}, "axis": null},
                      "y": {"field": "r", "type": "quantitative", "scale": {"domain": [-1.4167, 7.4167], "reverse": true, "nice": false, "zero": false}, "axis": null}, "text": {"field": "t"}}}
      ]
    }
  ]
}
